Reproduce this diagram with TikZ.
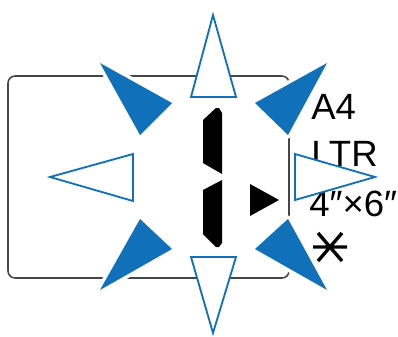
\documentclass[tikz,border=0pt]{standalone}
\usepackage{fontspec}
\setmainfont{Liberation Sans}
\definecolor{canonblue}{RGB}{16,112,186}
\definecolor{framegray}{RGB}{70,70,70}

\tikzset{
  solidtri/.style={fill=canonblue, preaction={draw=white, line width=5pt, line join=round}},
  opentri/.style={draw=canonblue, fill=white, line width=1.3pt},
  segment/.style={fill=black},
  lbl/.style={anchor=base west, inner sep=0pt, font=\fontsize{26}{26}\selectfont}
}

\begin{document}
\begin{tikzpicture}[x=0.025cm, y=-0.025cm]
  \useasboundingbox (0,0) rectangle (398,336);
  % panel frame
  \draw[framegray, line width=1.1pt, rounded corners=5pt] (8,76) rectangle (289,278);
  % paper size labels
  \node[lbl] (a4) at (311,119) {A4};
  \node[lbl] (ltr) at (311,166) {LTR};
  \node[lbl] (sixfour) at (309,216) {4″×6″};
  \coordinate (star) at (330,247);
  \draw[line width=2.4pt] (313,247) -- (347,247)
    (318,233) -- (342,261) (342,233) -- (318,261);
  % segment digit
  \fill[segment] (203,120) -- (216,108) -- (219,108) -- (222,113) -- (222,174) -- (203,163) -- cycle;
  \fill[segment] (203,190) -- (222,180) -- (222,243) -- (219,247) -- (216,247) -- (203,234) -- cycle;
  % play mark
  \fill[segment] (250,184) -- (279,200) -- (250,216) -- cycle;
  % open arrows
  \draw[opentri] (213,15) -- (236,97) -- (191,97) -- cycle;
  \draw[opentri] (213,333) -- (236,257) -- (191,257) -- cycle;
  \draw[opentri] (50,177) -- (133,154) -- (133,201) -- cycle;
  \draw[opentri] (375,177) -- (295,154) -- (295,200) -- cycle;
  % solid arrows
  \path[solidtri] (100,63) -- (172,103) -- (140,135) -- cycle;
  \path[solidtri] (327,63) -- (255,103) -- (288,135) -- cycle;
  \path[solidtri] (100,290) -- (140,219) -- (172,249) -- cycle;
  \path[solidtri] (327,290) -- (288,219) -- (255,249) -- cycle;
\end{tikzpicture}
\end{document}
